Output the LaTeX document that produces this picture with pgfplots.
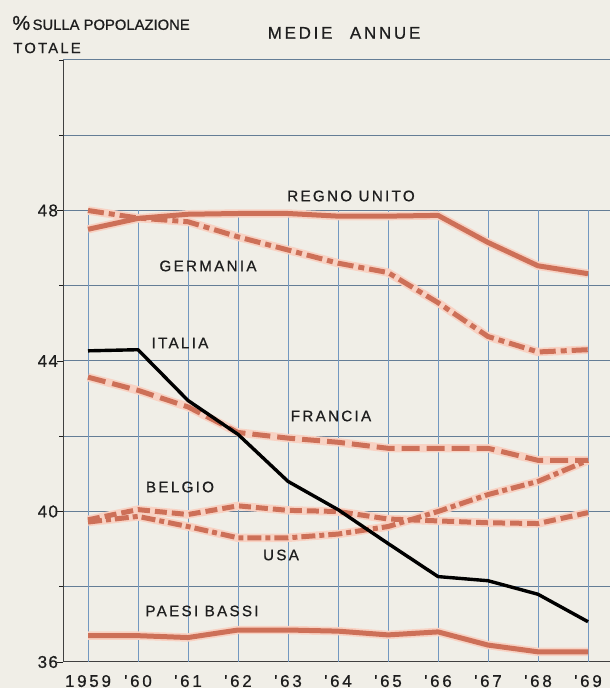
\documentclass[border=0pt]{standalone}
\usepackage{fontspec}
\setmainfont{Liberation Sans}
\newfontfamily\lsf[LetterSpace=15,FakeBold=0.8]{Liberation Sans}
\newfontfamily\tkf[LetterSpace=16,FakeBold=0.6]{Liberation Sans}
\newfontfamily\ykf[LetterSpace=8,FakeBold=0.6]{Liberation Sans}
\newfontfamily\hdf[FakeBold=1.0]{Liberation Sans}
\usepackage{pgfplots}
\usepackage{pgfplotstable}
\pgfplotsset{compat=1.18}
\definecolor{bgc}{RGB}{240,238,231}
\definecolor{org}{RGB}{205,112,88}
\definecolor{halo}{RGB}{248,210,195}
\definecolor{hgrid}{RGB}{100,125,150}
\definecolor{vgrid}{RGB}{115,152,192}
\definecolor{ink}{RGB}{30,30,30}

\pgfplotstableread{
year RU    DE    IT    FR    BE    US    NL
1959 47.50 48.00 44.27 43.57 39.78 39.72 36.70
1960 47.79 47.80 44.30 43.22 40.05 39.87 36.70
1961 47.90 47.70 42.95 42.78 39.92 39.60 36.65
1962 47.92 47.30 42.05 42.10 40.15 39.30 36.85
1963 47.92 46.95 40.80 41.95 40.03 39.30 36.85
1964 47.85 46.60 40.05 41.84 40.00 39.40 36.82
1965 47.85 46.35 39.15 41.68 39.80 39.60 36.72
1966 47.87 45.55 38.27 41.68 39.75 40.00 36.80
1967 47.15 44.65 38.16 41.68 39.70 40.45 36.45
1968 46.53 44.24 37.80 41.36 39.68 40.80 36.27
1969 46.32 44.30 37.07 41.36 39.97 41.36 36.27
}\data

\begin{document}
\begin{tikzpicture}
\fill[bgc] (-31.5pt,-13pt) rectangle (273.5pt,331pt);
\path[use as bounding box] (-31.5pt,-13pt) rectangle (273.5pt,331pt);
\begin{axis}[
  at={(0pt,0pt)}, anchor=south west,
  scale only axis, width=273.5pt, height=301pt,
  xmin=1958.5, xmax=1969.44, ymin=36, ymax=52,
  axis x line=bottom, axis y line=left,
  axis line style={-, ink!85, line width=0.5pt},
  xtick={1959,1960,1961,1962,1963,1964,1965,1966,1967,1968,1969},
  xticklabels={1959,'60,'61,'62,'63,'64,'65,'66,'67,'68,'69},
  ytick={36,40,44,48}, yticklabels={36,40,44,48},
  minor ytick={38,42,46,50,52},
  ymajorgrids, yminorgrids,
  major grid style={hgrid, line width=0.5pt},
  minor grid style={hgrid, line width=0.5pt},
  xticklabel style={font=\tkf\fontsize{8.5}{10}\selectfont, text=ink},
  every y tick label/.append style={font=\ykf\fontsize{8.5}{10}\selectfont, text=ink, anchor=east, xshift=4pt},
  x tick style={draw=none},
  y tick style={ink, line width=0.4pt},
  tick align=outside, major tick length=3pt, minor tick length=2pt,
  clip=false,
]
\pgfplotsinvokeforeach{1959,1960,1961,1962,1963,1964,1965,1966,1967,1968,1969}{
  \draw[vgrid, line width=0.5pt] (axis cs:#1,36) -- (axis cs:#1,48);
}
% halos
\addplot[halo, line width=4.2pt, line join=round] table[x=year,y=NL]{\data};
\addplot[halo, line width=4.2pt, line join=round] table[x=year,y=RU]{\data};
\addplot[halo, line width=4.2pt, line join=round] table[x=year,y=DE]{\data};
\addplot[halo, line width=4.2pt, line join=round] table[x=year,y=FR]{\data};
\addplot[halo, line width=4.2pt, line join=round] table[x=year,y=BE]{\data};
\addplot[halo, line width=4.2pt, line join=round] table[x=year,y=US]{\data};
% lines
\addplot[org, line width=2.5pt, line join=round] table[x=year,y=NL]{\data};
\addplot[org, line width=2.5pt, line join=round] table[x=year,y=RU]{\data};
\addplot[org, line width=2.5pt, dash pattern=on 8pt off 2.5pt on 3pt off 2.5pt] table[x=year,y=DE]{\data};
\addplot[org, line width=2.5pt, dash pattern=on 9pt off 3.5pt] table[x=year,y=FR]{\data};
\addplot[org, line width=2.5pt, dash pattern=on 6pt off 2.5pt] table[x=year,y=BE]{\data};
\addplot[org, line width=2.5pt, dash pattern=on 7pt off 2pt on 2.5pt off 2pt] table[x=year,y=US]{\data};
\addplot[black, line width=1.7pt, line join=round] table[x=year,y=IT]{\data};
\end{axis}
\begin{scope}[x=0.5pt,y=-0.5pt,shift={(-31.5pt,331pt)}]
\node[anchor=west, inner sep=0, text=ink] at (12,23) {\hdf\fontsize{7.4}{9}\selectfont{\fontsize{10}{10}\selectfont\%}\,SULLA POPOLAZIONE};
\node[anchor=west, inner sep=0, text=ink] at (13,48) {\lsf\fontsize{7.4}{9}\selectfont TOTALE};
\node[inner sep=0, text=ink] at (344,33) {\tkf\fontsize{8.5}{10}\selectfont MEDIE\hspace{5pt} ANNUE};
\node[inner sep=0, text=ink] at (351,196) {\lsf\fontsize{7.6}{9}\selectfont REGNO UNITO};
\node[inner sep=0, text=ink] at (208,266) {\lsf\fontsize{7.6}{9}\selectfont GERMANIA};
\node[inner sep=0, text=ink] at (180,343) {\lsf\fontsize{7.6}{9}\selectfont ITALIA};
\node[inner sep=0, text=ink] at (331,416) {\lsf\fontsize{7.6}{9}\selectfont FRANCIA};
\node[inner sep=0, text=ink] at (180,487) {\lsf\fontsize{7.6}{9}\selectfont BELGIO};
\node[inner sep=0, text=ink] at (281,555) {\lsf\fontsize{7.6}{9}\selectfont USA};
\node[inner sep=0, text=ink] at (202,611) {\lsf\fontsize{7.6}{9}\selectfont PAESI BASSI};
\end{scope}
\end{tikzpicture}
\end{document}
